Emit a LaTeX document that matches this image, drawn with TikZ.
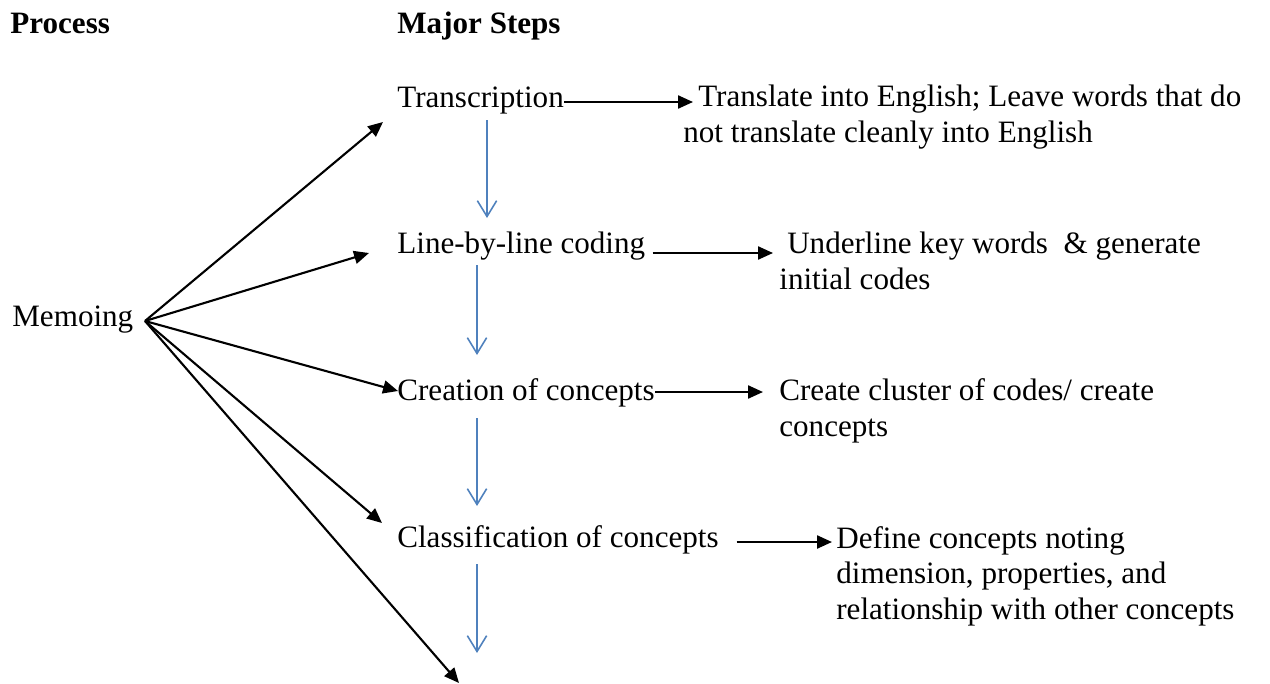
\documentclass[tikz,border=0pt]{standalone}
\usepackage{fontspec}
\setmainfont{Liberation Serif}
\usetikzlibrary{arrows.meta}

\definecolor{stepblue}{RGB}{79,129,189}

\tikzset{
  steptext/.style={anchor=base west, inner sep=0pt, font=\fontsize{17.7}{20.1}\selectfont},
  notetext/.style={steptext, align=left},
  headtext/.style={steptext, font=\fontsize{17.7}{20.1}\selectfont\bfseries},
  blk/.style={line width=1.2pt, -{Triangle[length=8.5pt,width=7.4pt]}},
  blu/.style={draw=stepblue, line width=0.9pt, -{Straight Barb[length=9pt,width=11pt]}},
}

\begin{document}
\begin{tikzpicture}[x=0.02cm, y=-0.02cm]
\useasboundingbox (0,0) rectangle (1270,683);

% headings
\node[headtext] (proc) at (10,33) {Process};
\node[headtext] (major) at (397,33) {Major Steps};

% process
\node[steptext] (memo) at (12,326) {Memoing};

% major steps
\node[steptext] (trans) at (397,107) {Transcription};
\node[steptext] (line) at (397,253) {Line-by-line coding};
\node[steptext] (creat) at (397,400) {Creation of concepts};
\node[steptext] (class) at (397,547) {Classification of concepts};

% notes (placed at the baseline of their last line)
\node[notetext] (tr) at (683,142) {\hspace*{8.5pt}Translate into English; Leave words that do\\not translate cleanly into English};
\node[notetext] (ul) at (779,289) {\hspace*{4.5pt}Underline key words\ \ \& generate\\initial codes};
\node[notetext] (cc) at (779,436) {Create cluster of codes/ create\\concepts};
\node[notetext] (dc) at (836,619) {Define concepts noting\\dimension, properties, and\\relationship with other concepts};

% memoing fan
\coordinate (m) at (145,321);
\coordinate (m1) at (383,122);
\coordinate (m2) at (369,253);
\coordinate (m3) at (398,391);
\coordinate (m4) at (382,523);
\coordinate (m5) at (459,683);
\foreach \t in {m1,m2,m3,m4,m5}
  \draw[blk] (m) -- (\t);

% steps to notes
\coordinate (a1) at (693,102);
\coordinate (a2) at (773,253);
\coordinate (a3) at (763,392);
\coordinate (a4) at (832,542);
\draw[blk] (trans.east |- a1) -- (a1);
\draw[blk] ([xshift=4pt]line.east |- a2) -- (a2);
\draw[blk] (creat.east |- a3) -- (a3);
\draw[blk] ([xshift=10pt]class.east |- a4) -- (a4);

% step to step
\coordinate (d1) at (487,120);
\coordinate (d2) at (477,265);
\coordinate (d3) at (477,418);
\coordinate (d4) at (477,564);
\draw[blu] (d1) -- ++(0,98);
\draw[blu] (d2) -- ++(0,90);
\draw[blu] (d3) -- ++(0,88);
\draw[blu] (d4) -- ++(0,89);
\end{tikzpicture}
\end{document}
